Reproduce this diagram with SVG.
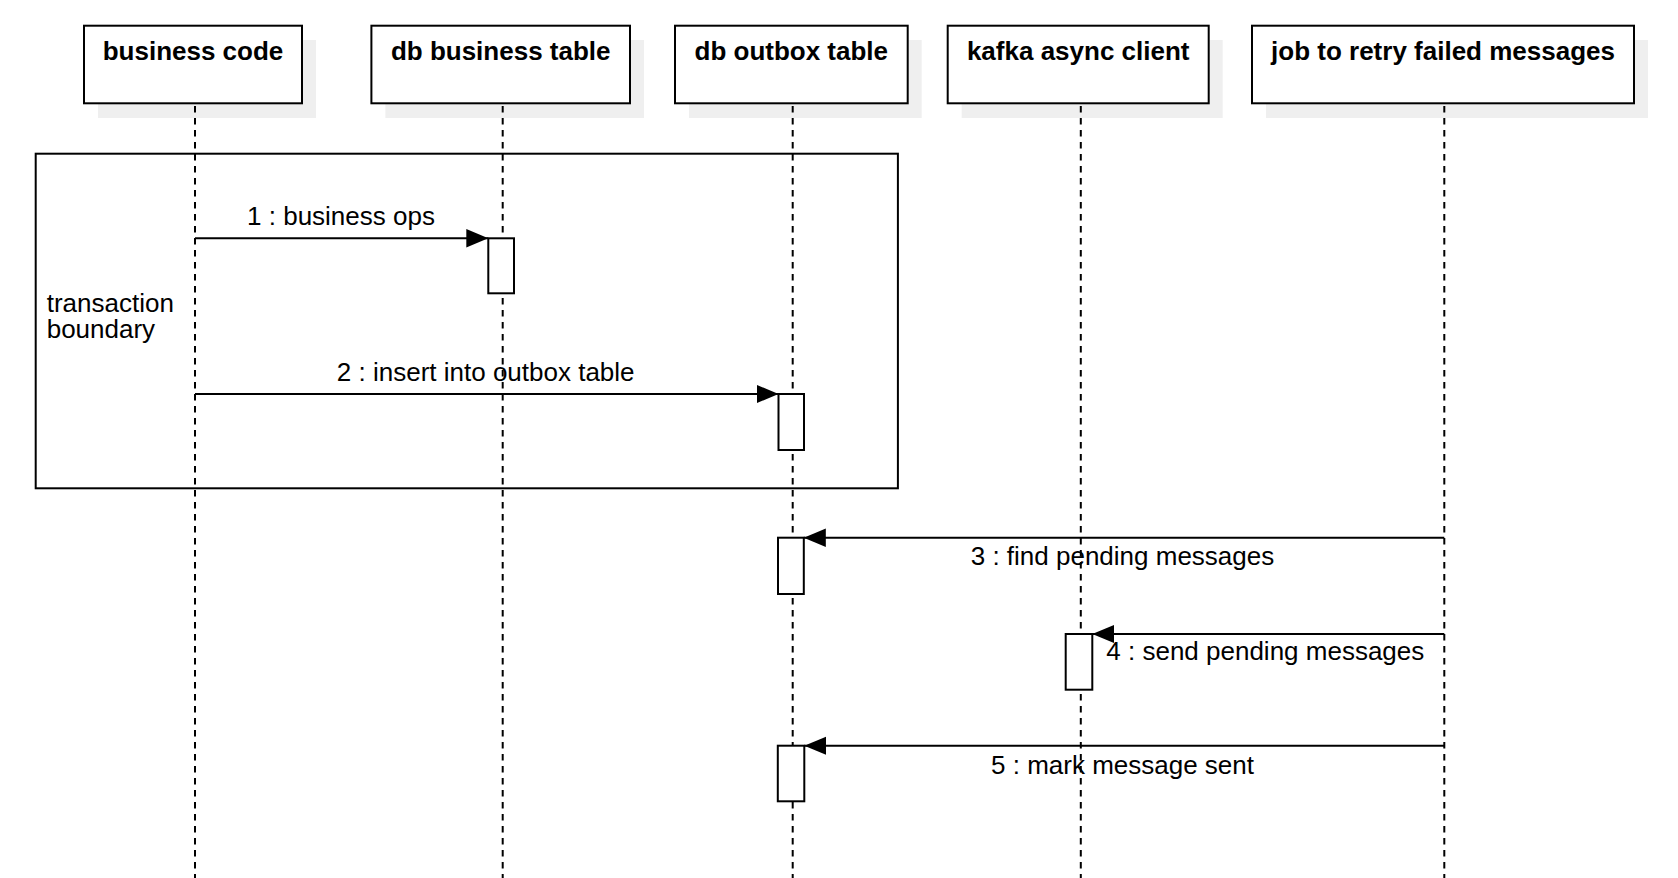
<svg xmlns="http://www.w3.org/2000/svg" width="1678" height="878" viewBox="0 0 1678 878">
<style>
.actor{fill:#ffffff;stroke:#000000;stroke-width:2}
.shadow{fill:#efefef;stroke:none}
.title{font-family:"Liberation Sans",Arial,sans-serif;font-size:26px;font-weight:bold;fill:#000000;text-anchor:middle}
.label{font-family:"Liberation Sans",Arial,sans-serif;font-size:26px;fill:#000000}
.mid{text-anchor:middle}
.life{stroke:#000000;stroke-width:2;stroke-dasharray:6.5 5.5;fill:none}
.act{fill:#ffffff;stroke:#000000;stroke-width:2}
.msg{stroke:#000000;stroke-width:2;fill:none;marker-end:url(#arrow)}
.frame{fill:none;stroke:#000000;stroke-width:2}
</style>
<defs>
<marker id="arrow" markerUnits="userSpaceOnUse" markerWidth="23" markerHeight="20" refX="22" refY="10" orient="auto" viewBox="0 0 23 20">
<path d="M0,0.8 L22,10 L0,19.2 Z" fill="#000000"/>
</marker>
</defs>
<rect width="1678" height="878" fill="#ffffff"/>

<g id="actor-business-code">
<rect class="shadow" x="98" y="40" width="218" height="78"/>
<rect class="actor" x="84" y="25.7" width="218" height="77.6"/>
<text class="title" x="193" y="59.5">business code</text>
</g>
<g id="actor-db-business-table">
<rect class="shadow" x="385.4" y="40" width="258.6" height="78"/>
<rect class="actor" x="371.4" y="25.7" width="258.6" height="77.6"/>
<text class="title" x="500.7" y="59.5">db business table</text>
</g>
<g id="actor-db-outbox-table">
<rect class="shadow" x="689" y="40" width="232.7" height="78"/>
<rect class="actor" x="675" y="25.7" width="232.7" height="77.6"/>
<text class="title" x="791.3" y="59.5">db outbox table</text>
</g>
<g id="actor-kafka-async-client">
<rect class="shadow" x="961.7" y="40" width="261" height="78"/>
<rect class="actor" x="947.7" y="25.7" width="261" height="77.6"/>
<text class="title" x="1078.2" y="59.5">kafka async client</text>
</g>
<g id="actor-job-retry">
<rect class="shadow" x="1266" y="40" width="382" height="78"/>
<rect class="actor" x="1252" y="25.7" width="382" height="77.6"/>
<text class="title" x="1443" y="59.5">job to retry failed messages</text>
</g>

<g id="lifelines">
<line class="life" x1="195" y1="106" x2="195" y2="878"/>
<line class="life" x1="502.7" y1="106" x2="502.7" y2="878"/>
<line class="life" x1="792.7" y1="106" x2="792.7" y2="878"/>
<line class="life" x1="1080.8" y1="106" x2="1080.8" y2="878"/>
<line class="life" x1="1444.3" y1="106" x2="1444.3" y2="878"/>
</g>

<g id="transaction-boundary">
<rect class="frame" x="35.7" y="153.7" width="862.2" height="334.6"/>
<text class="label" x="46.7" y="312">transaction</text>
<text class="label" x="46.7" y="338">boundary</text>
</g>

<g id="activations">
<rect class="act" x="488.3" y="238.3" width="25.7" height="55"/>
<rect class="act" x="778.5" y="394" width="25.5" height="56"/>
<rect class="act" x="778" y="537.7" width="25.8" height="56.3"/>
<rect class="act" x="1065.7" y="634" width="26.6" height="55.7"/>
<rect class="act" x="777.8" y="745.7" width="26.5" height="55.6"/>
</g>

<g id="connectors">
<line class="msg" x1="195" y1="238.3" x2="488.3" y2="238.3"/>
<text class="label mid" x="341" y="225">1 : business ops</text>
<line class="msg" x1="195" y1="394" x2="778.5" y2="394"/>
<text class="label mid" x="485.7" y="381">2 : insert into outbox table</text>
<line class="msg" x1="1444.3" y1="537.7" x2="803.8" y2="537.7"/>
<text class="label mid" x="1122.5" y="565">3 : find pending messages</text>
<line class="msg" x1="1444.3" y1="634" x2="1092.3" y2="634"/>
<text class="label mid" x="1265.3" y="660">4 : send pending messages</text>
<line class="msg" x1="1444.3" y1="745.7" x2="804.3" y2="745.7"/>
<text class="label mid" x="1122.5" y="773.5">5 : mark message sent</text>
</g>
</svg>
